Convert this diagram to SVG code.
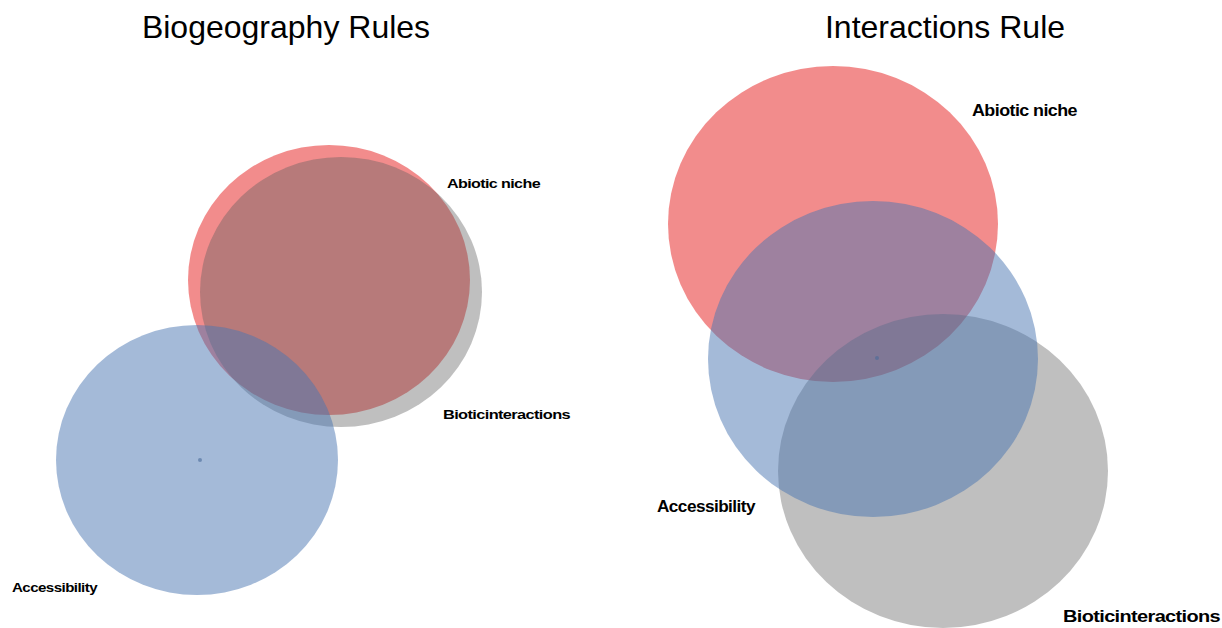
<svg xmlns="http://www.w3.org/2000/svg" width="1222" height="628" viewBox="0 0 1222 628">
<style>
.title{font-family:"Liberation Sans",Arial,sans-serif;font-size:32px;fill:#000}
.lbl{font-family:"Liberation Sans",Arial,sans-serif;font-weight:bold;fill:#000;letter-spacing:-0.5px}
.red{fill:#e51a1a;fill-opacity:0.5}
.grey{fill:#5f5f5f;fill-opacity:0.4}
.blue{fill:#4a75b1;fill-opacity:0.5}
.dot{fill:#4a6a9a;fill-opacity:0.6}
</style>
<rect width="1222" height="628" fill="#fff"/>
<text class="title" x="286" y="38" text-anchor="middle">Biogeography Rules</text>
<text class="title" x="945" y="38" text-anchor="middle">Interactions Rule</text>
<g id="left-abiotic"><ellipse class="red" cx="329" cy="280" rx="141" ry="135"/></g>
<g id="left-biotic"><ellipse class="grey" cx="341" cy="292" rx="141" ry="135"/></g>
<g id="left-access"><ellipse class="blue" cx="197" cy="460" rx="141" ry="135"/><circle class="dot" cx="200" cy="460" r="2"/></g>
<g id="right-abiotic"><ellipse class="red" cx="833" cy="224" rx="165" ry="158"/></g>
<g id="right-biotic"><ellipse class="grey" cx="943" cy="471" rx="165" ry="157"/></g>
<g id="right-access"><ellipse class="blue" cx="873" cy="359" rx="165" ry="158"/><circle class="dot" cx="877" cy="358" r="2"/></g>
<g id="connectors"></g>
<g id="labels">
<text class="lbl" x="447" y="188" font-size="13" textLength="93" lengthAdjust="spacingAndGlyphs">Abiotic niche</text>
<text class="lbl" x="443" y="419" font-size="13" textLength="127" lengthAdjust="spacingAndGlyphs">Bioticinteractions</text>
<text class="lbl" x="12" y="592" font-size="13" textLength="85" lengthAdjust="spacingAndGlyphs">Accessibility</text>
<text class="lbl" x="972" y="116" font-size="16" textLength="105" lengthAdjust="spacingAndGlyphs">Abiotic niche</text>
<text class="lbl" x="657" y="512" font-size="16" textLength="98" lengthAdjust="spacingAndGlyphs">Accessibility</text>
<text class="lbl" x="1063" y="622" font-size="16" textLength="157" lengthAdjust="spacingAndGlyphs">Bioticinteractions</text>
</g>
</svg>
